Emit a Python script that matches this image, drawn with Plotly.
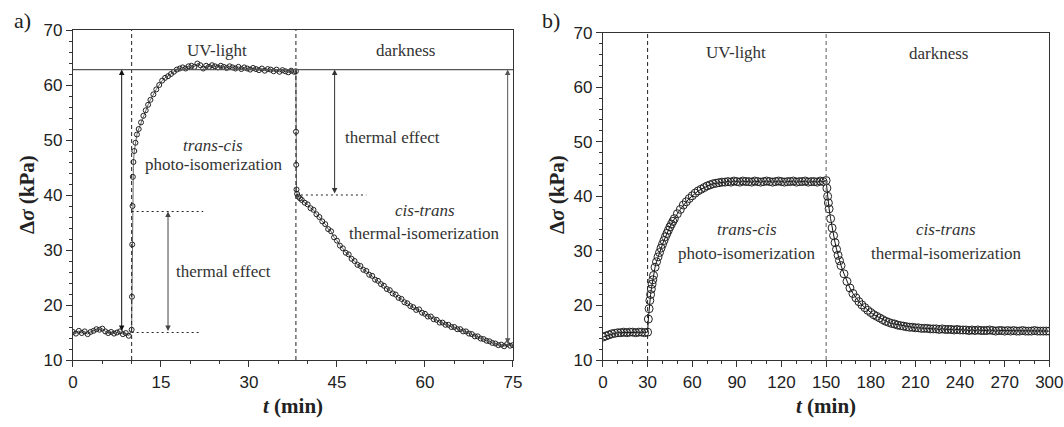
import plotly.graph_objects as go

# ---------------- Panel a data (t in min, stress in kPa) ----------------
t_a = [0, 0.5, 1, 1.5, 2, 2.5, 3, 3.5, 4, 4.5, 5, 5.5, 6, 6.5, 7, 7.5, 8, 8.5, 9, 9.5,
       10.0, 10.05, 10.1, 10.15, 10.2, 10.3, 10.45, 10.65, 10.9, 11.2, 11.6, 12.0, 12.4, 12.8,
       13.2, 13.7, 14.2, 14.7, 15.2, 15.7, 16.2, 16.7, 17.2, 17.7, 18.2, 18.7, 19.2, 19.7,
       20.2, 20.7, 21.2, 21.7, 22.2, 22.7, 23.2, 23.7, 24.2, 24.7, 25.2, 25.7, 26.2, 26.7,
       27.2, 27.7, 28.2, 28.7, 29.2, 29.7, 30.2, 30.7, 31.2, 31.7, 32.2, 32.7, 33.2, 33.7,
       34.2, 34.7, 35.2, 35.7, 36.2, 36.7, 37.2, 37.7, 38.0,
       38.02, 38.05, 38.1, 38.2, 38.4, 38.7, 39.0, 39.5, 40, 40.5, 41, 41.5, 42, 42.5, 43,
       43.5, 44, 44.5, 45, 45.5, 46, 46.5, 47, 47.5, 48, 48.5, 49, 49.5, 50, 50.5, 51, 51.5,
       52, 52.5, 53, 53.5, 54, 54.5, 55, 55.5, 56, 56.5, 57, 57.5, 58, 58.5, 59, 59.5, 60,
       60.5, 61, 61.5, 62, 62.5, 63, 63.5, 64, 64.5, 65, 65.5, 66, 66.5, 67, 67.5, 68, 68.5,
       69, 69.5, 70, 70.5, 71, 71.5, 72, 72.5, 73, 73.5, 74, 74.5, 75]
s_a = [15.1, 14.8, 15.3, 14.9, 15.2, 14.7, 15.1, 15.3, 15.6, 15.5, 15.7, 15.2, 14.9, 15.1,
       14.8, 15.0, 15.2, 14.7, 14.9, 14.4,
       15.5, 21.5, 31.0, 38.0, 43.3, 46.0, 48.0, 49.5, 51.0, 52.0, 53.2, 54.4, 55.4, 56.4,
       57.3, 58.3, 59.2, 60.0, 60.8, 61.3, 61.6, 62.0, 62.4, 62.8, 63.0, 63.2, 63.0, 63.4,
       63.5, 63.3, 63.9, 63.6, 63.0, 63.5, 63.3, 63.6, 63.4, 63.2, 63.5, 63.3, 63.1, 63.4,
       63.2, 63.0, 63.3, 62.9, 63.2, 63.0, 62.8, 63.1, 62.9, 62.7, 63.0, 62.6, 62.9, 62.8,
       62.5, 62.8, 62.4, 62.7, 62.5, 62.3, 62.6, 62.4, 62.5,
       51.5, 45.5, 41.0, 40.2, 39.7, 39.4, 39.1, 38.6, 38.3, 37.6, 37.3, 36.5, 36.0, 35.2,
       34.7, 33.8, 33.4, 32.3, 31.7, 30.8, 30.3, 29.5, 29.2, 28.4, 28.0, 27.3, 27.1, 26.4,
       26.2, 25.5, 25.3, 24.6, 24.4, 23.8, 23.5, 22.9, 22.7, 22.1, 21.9, 21.3, 21.1, 20.5,
       20.3, 19.8, 19.6, 19.1, 19.2, 18.6, 18.4, 17.9, 17.9, 17.4, 17.3, 16.8, 16.8, 16.4,
       16.4, 16.0, 16.0, 15.6, 15.6, 15.2, 15.2, 14.8, 14.7, 14.3, 14.3, 13.9, 13.8, 13.5,
       13.4, 13.1, 13.0, 12.7, 12.8, 12.5, 12.9, 12.6, 12.7]

# ---------------- Panel b data ----------------
t_b = [0, 2, 4, 6, 8, 10, 12, 14, 16, 18, 20, 22, 24, 26, 28, 30,
       30.5, 31, 31.5, 32, 32.5, 33, 33.5, 34, 35, 36, 37, 38, 39, 40, 41, 42, 43, 44, 45,
       46, 47, 48, 50, 52, 54, 56, 58, 60, 62, 64, 66, 68, 70, 72, 74, 76, 78, 80,
       82, 84, 86, 88, 90, 92, 94, 96, 98, 100, 102, 104, 106, 108, 110, 112, 114, 116,
       118, 120, 122, 124, 126, 128, 130, 132, 134, 136, 138, 140, 142, 144, 146, 148, 150,
       150.5, 151, 151.5, 152, 153, 154, 155, 156, 157, 158, 159, 160, 162, 164, 166, 168,
       170, 172, 174, 176, 178, 180, 182, 184, 186, 188, 190, 192, 194, 196, 198, 200,
       202, 204, 206, 208, 210, 212, 214, 216, 218, 220, 222, 224, 226, 228, 230, 232,
       234, 236, 238, 240, 242, 244, 246, 248, 250, 252, 254, 256, 258, 260, 262, 264,
       266, 268, 270, 272, 274, 276, 278, 280, 282, 284, 286, 288, 290, 292, 294, 296,
       298, 300]
s_b = [14.2, 14.4, 14.6, 14.8, 14.9, 15.0, 15.0, 15.1, 15.0, 15.1, 15.1, 15.0, 15.1, 15.1,
       15.0, 15.1,
       17.5, 19.4, 20.9, 22.0, 23.0, 23.9, 24.7, 25.5, 27.0, 28.0, 28.9, 29.7, 30.5, 31.2,
       31.9, 32.6, 33.2, 33.8, 34.4, 34.9, 35.4, 35.9, 36.8, 37.6, 38.4, 39.0, 39.6, 40.1,
       40.6, 41.0, 41.3, 41.6, 41.9, 42.1, 42.3, 42.4, 42.5, 42.6,
       42.6, 42.7, 42.6, 42.8, 42.7, 42.6, 42.8, 42.7, 42.7, 42.6, 42.8, 42.7, 42.6, 42.7,
       42.8, 42.7, 42.6, 42.7, 42.8, 42.7, 42.6, 42.7, 42.7, 42.8, 42.6, 42.7, 42.7, 42.8,
       42.6, 42.7, 42.7, 42.6, 42.8, 42.7, 42.9,
       41.5, 40.0, 38.8, 37.7, 35.9, 34.2, 32.8, 31.5, 30.3, 29.2, 28.2, 27.3, 25.8, 24.4,
       23.2, 22.2, 21.4, 20.7, 20.1, 19.6, 19.1, 18.7, 18.3, 18.0, 17.7, 17.4, 17.1, 16.9,
       16.7, 16.6, 16.4, 16.3,
       16.2, 16.1, 16.0, 16.0, 15.9, 15.9, 15.8, 15.8, 15.8, 15.7, 15.7, 15.7, 15.6, 15.7,
       15.6, 15.6, 15.6, 15.5, 15.6, 15.5, 15.5, 15.5, 15.4, 15.5, 15.4, 15.5, 15.4, 15.4,
       15.4, 15.5, 15.4, 15.3, 15.4, 15.4, 15.3, 15.4, 15.3, 15.4, 15.3, 15.3, 15.4, 15.3,
       15.3, 15.3, 15.4, 15.3, 15.3, 15.3, 15.3, 15.3]

# reference levels (kPa) and switching times (min)
a_switch = [10, 38]
b_switch = [30, 150]
a_top_level = 62.8
a_base_level = 15.0
a_jump_level = 37.0
a_drop_level = 40.0
a_end_level = 12.7

DARK = "#222222"
TXT = "#333333"
SERIF = "Liberation Serif"
SANS = "Liberation Sans"

fig = go.Figure()
fig.add_trace(go.Scatter(x=t_a, y=s_a, mode="lines+markers", xaxis="x", yaxis="y",
                         line=dict(color="#444444", width=0.8),
                         marker=dict(symbol="circle-open", size=5, color=DARK,
                                     line=dict(width=1, color=DARK)),
                         showlegend=False))
fig.add_trace(go.Scatter(x=t_b, y=s_b, mode="lines+markers", xaxis="x2", yaxis="y2",
                         line=dict(color="#111111", width=1),
                         marker=dict(symbol="circle-open", size=8, color=DARK,
                                     line=dict(width=1, color="#333333")),
                         showlegend=False))

axis_common = dict(showgrid=False, zeroline=False, showline=True, linecolor="#333333",
                   linewidth=1.3, mirror=True, ticks="outside", ticklen=6, tickwidth=1.2,
                   tickcolor="#333333", automargin=False,
                   tickfont=dict(family=SANS, size=17, color="#222222"))

fig.update_layout(
    width=1064, height=427, paper_bgcolor="white", plot_bgcolor="white",
    margin=dict(l=0, r=0, t=30, b=67, autoexpand=False),
    xaxis=dict(domain=[0.0686, 0.4821], range=[0, 75], dtick=15, tick0=0,
               minor=dict(dtick=5, ticks="outside", ticklen=3, tickcolor="#333333"),
               anchor="y", **axis_common),
    yaxis=dict(domain=[0, 1], range=[10, 70], dtick=10, tick0=10,
               minor=dict(dtick=2, ticks="outside", ticklen=3, tickcolor="#333333"),
               anchor="x", **axis_common),
    xaxis2=dict(domain=[0.5667, 0.9862], range=[0, 300], dtick=30, tick0=0,
                minor=dict(dtick=10, ticks="outside", ticklen=3, tickcolor="#333333"),
                anchor="y2", **axis_common),
    yaxis2=dict(domain=[0, 0.992], range=[10, 70], dtick=10, tick0=10,
                minor=dict(dtick=2, ticks="outside", ticklen=3, tickcolor="#333333"),
                anchor="x2", **axis_common),
)

shapes = []
# vertical dashed switching lines
for t in a_switch:
    shapes.append(dict(type="line", xref="x", yref="y", x0=t, x1=t, y0=10, y1=70,
                       line=dict(color="#222222", width=1, dash="4px,3px")))
shapes.append(dict(type="line", xref="x2", yref="y2", x0=b_switch[0], x1=b_switch[0], y0=10, y1=70,
                   line=dict(color="#222222", width=1, dash="4px,3px")))
shapes.append(dict(type="line", xref="x2", yref="y2", x0=b_switch[1], x1=b_switch[1], y0=10, y1=70,
                   line=dict(color="#777777", width=1.2, dash="4px,3px")))
# horizontal solid line at plateau level
shapes.append(dict(type="line", xref="x", yref="y", x0=0, x1=75, y0=a_top_level, y1=a_top_level,
                   line=dict(color="#555555", width=1.2)))
# dotted guide lines
shapes.append(dict(type="line", xref="x", yref="y", x0=10, x1=22.2, y0=a_jump_level, y1=a_jump_level,
                   line=dict(color="#222222", width=1, dash="2px,3px")))
shapes.append(dict(type="line", xref="x", yref="y", x0=10, x1=21.6, y0=a_base_level, y1=a_base_level,
                   line=dict(color="#222222", width=1, dash="2px,3px")))
shapes.append(dict(type="line", xref="x", yref="y", x0=38, x1=50, y0=a_drop_level, y1=a_drop_level,
                   line=dict(color="#222222", width=1, dash="2px,3px")))
fig.update_layout(shapes=shapes)

ann = []


def arrow(xref, yref, x, y0, y1, color):
    ann.append(dict(xref=xref, yref=yref, axref=xref, ayref=yref, x=x, y=y1, ax=x, ay=y0,
                    text="", showarrow=True, arrowhead=2, arrowsize=1.1, arrowwidth=1,
                    arrowside="end+start", arrowcolor=color, standoff=0, startstandoff=0))


arrow("x", "y", 8.3, a_base_level, a_top_level, "#111111")
arrow("x", "y", 16.2, a_base_level, a_jump_level, "#444444")
arrow("x", "y", 44.6, a_drop_level, a_top_level, "#333333")
arrow("x", "y", 74.1, a_end_level, a_top_level, "#555555")


def txt(xref, yref, x, y, s, size=17):
    ann.append(dict(xref=xref, yref=yref, x=x, y=y, text=s, showarrow=False,
                    font=dict(family=SERIF, size=size, color=TXT), xanchor="center",
                    yanchor="middle"))


# panel a texts
txt("x", "y", 24.5, 66.2, "UV-light")
txt("x", "y", 56.6, 66.2, "darkness")
txt("x", "y", 23.9, 49.0, "<i>trans-cis</i>")
txt("x", "y", 23.9, 45.6, "photo-isomerization")
txt("x", "y", 54.4, 50.5, "thermal effect")
txt("x", "y", 25.7, 26.1, "thermal effect")
txt("x", "y", 60.0, 37.2, "<i>cis-trans</i>")
txt("x", "y", 60.0, 33.0, "thermal-isomerization")
# panel b texts
txt("x2", "y2", 89.7, 66.3, "UV-light")
txt("x2", "y2", 225.4, 66.2, "darkness")
txt("x2", "y2", 96.7, 33.9, "<i>trans-cis</i>")
txt("x2", "y2", 96.7, 29.6, "photo-isomerization")
txt("x2", "y2", 230.6, 33.9, "<i>cis-trans</i>")
txt("x2", "y2", 230.6, 29.6, "thermal-isomerization")

# axis titles and panel labels (paper coordinates)
title_font = dict(family=SERIF, size=21, color="#222222")
ann.append(dict(xref="paper", yref="paper", x=27 / 1064, y=0.5, text="<b>Δ<i>σ</i> (kPa)</b>",
                textangle=-90, showarrow=False, font=title_font, xanchor="center", yanchor="middle"))
ann.append(dict(xref="paper", yref="paper", x=557 / 1064, y=0.5, text="<b>Δ<i>σ</i> (kPa)</b>",
                textangle=-90, showarrow=False, font=title_font, xanchor="center", yanchor="middle"))
ann.append(dict(xref="paper", yref="paper", x=293 / 1064, y=-46 / 330, text="<b><i>t</i> (min)</b>",
                showarrow=False, font=title_font, xanchor="center", yanchor="middle"))
ann.append(dict(xref="paper", yref="paper", x=826 / 1064, y=-46 / 330, text="<b><i>t</i> (min)</b>",
                showarrow=False, font=title_font, xanchor="center", yanchor="middle"))
ann.append(dict(xref="paper", yref="paper", x=12 / 1064, y=1.03, text="a)", showarrow=False,
                font=dict(family=SERIF, size=22, color="#222222"), xanchor="left", yanchor="middle"))
ann.append(dict(xref="paper", yref="paper", x=540 / 1064, y=1.03, text="b)", showarrow=False,
                font=dict(family=SERIF, size=22, color="#222222"), xanchor="left", yanchor="middle"))

fig.update_layout(annotations=ann)
fig.write_html("out.html", config={"displayModeBar": False},
               post_script="document.body.style.margin='0';document.body.style.overflow='hidden';")
